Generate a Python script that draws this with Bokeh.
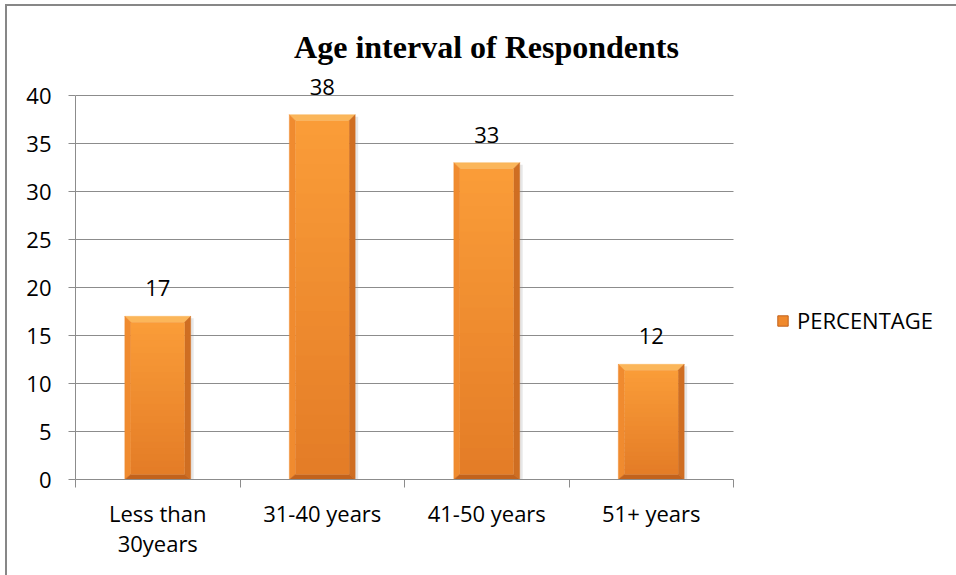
from bokeh.plotting import figure
from bokeh.models import (Range1d, FixedTicker, ColumnDataSource, LabelSet, Label,
                          Legend, LegendItem)
from bokeh.core.properties import value
from bokeh.embed import file_html
from bokeh.resources import INLINE

# Data
categories = ["Less than\n30years", "31-40 years", "41-50 years", "51+ years"]
percentage = [17, 38, 33, 12]
y_ticks = [0, 5, 10, 15, 20, 25, 30, 35, 40]
series_name = "PERCENTAGE"
title_text = "Age interval of Respondents"

FONT = "Open Sans"
GRID = "#8c8c8c"
Y_MAX = 40

# Canvas geometry: the canvas sits inside a framed box (left/top rules)
CANVAS_W, CANVAS_H = 952, 571
LEFT, BOTTOM = 68, 98                  # space for the axes
PX_PER_CAT = 164.5                     # horizontal pixels per category
PX_PER_UNIT = 9.6                      # vertical pixels per percentage point
frame_w = CANVAS_W - LEFT
frame_h = CANVAS_H - BOTTOM

p = figure(width=CANVAS_W, height=CANVAS_H, output_backend="svg", toolbar_location=None,
           x_range=Range1d(0, frame_w / PX_PER_CAT),
           y_range=Range1d(0, frame_h / PX_PER_UNIT),
           min_border_left=LEFT, min_border_right=0, min_border_top=0,
           min_border_bottom=BOTTOM, outline_line_color=None,
           margin=(4, 0, 0, 5),
           styles={"border-top": "2px solid #878787", "border-left": "2px solid #878787"})
p.title.visible = False

px_x = 1 / PX_PER_CAT
px_y = 1 / PX_PER_UNIT
n_cat = len(categories)

# Axes
p.yaxis.bounds = (0, Y_MAX)
p.yaxis.ticker = FixedTicker(ticks=y_ticks)
p.yaxis.axis_line_color = GRID
p.yaxis.major_tick_line_color = GRID
p.yaxis.major_tick_out = 7
p.yaxis.major_tick_in = 0
p.yaxis.minor_tick_line_color = None
p.yaxis.major_label_standoff = 17
p.yaxis.major_label_text_font = FONT
p.yaxis.major_label_text_font_size = "22px"
p.yaxis.major_label_text_color = "#000000"

centers = [i + 0.5 for i in range(n_cat)]
bounds = list(range(n_cat + 1))
p.xaxis.bounds = (0, n_cat)
p.xaxis.ticker = FixedTicker(ticks=centers, minor_ticks=bounds)
p.xaxis.major_label_overrides = {c: lab for c, lab in zip(centers, categories)}
p.xaxis.axis_line_color = GRID
p.xaxis.major_tick_line_color = None
p.xaxis.major_tick_out = 0
p.xaxis.major_tick_in = 0
p.xaxis.minor_tick_line_color = GRID
p.xaxis.minor_tick_out = 8
p.xaxis.minor_tick_in = 0
p.xaxis.major_label_standoff = 10
p.xaxis.major_label_text_font = FONT
p.xaxis.major_label_text_font_size = "22px"
p.xaxis.major_label_text_color = "#000000"
p.xaxis.major_label_text_line_height = 1.0

# Horizontal gridlines across the category area only
p.xgrid.grid_line_color = None
p.ygrid.grid_line_color = None
grid_y = [t for t in y_ticks if t > 0]
p.segment(x0=[0] * len(grid_y), x1=[n_cat] * len(grid_y), y0=grid_y, y1=grid_y,
          line_color=GRID, line_width=1)

# Bevelled bars
dx = 6 * px_x
dyt = 6 * px_y
dyb = 5 * px_y
half = 0.2

shadow = dict(left=[], right=[], top=[], bottom=[])
top_xs, top_ys, lft_xs, lft_ys, rgt_xs, rgt_ys, bot_xs, bot_ys = ([] for _ in range(8))
face = dict(left=[], right=[], top=[], bottom=[], color=[])

top_c = (0xFA, 0x9C, 0x38)
bot_c = (0xE4, 0x7D, 0x27)
n_slices = 24

for c, v in zip(centers, percentage):
    x0, x1 = c - half, c + half
    shadow["left"].append(x0 + 2 * px_x)
    shadow["right"].append(x1 + 3 * px_x)
    shadow["top"].append(v - 2 * px_y)
    shadow["bottom"].append(0)
    top_xs.append([x0, x1, x1 - dx, x0 + dx]); top_ys.append([v, v, v - dyt, v - dyt])
    lft_xs.append([x0, x0 + dx, x0 + dx, x0]); lft_ys.append([v, v - dyt, dyb, 0])
    rgt_xs.append([x1, x1, x1 - dx, x1 - dx]); rgt_ys.append([v, 0, dyb, v - dyt])
    bot_xs.append([x0, x1, x1 - dx, x0 + dx]); bot_ys.append([0, 0, dyb, dyb])
    y_hi, y_lo = v - dyt, dyb
    step = (y_hi - y_lo) / n_slices
    for k in range(n_slices):
        t = k / (n_slices - 1)
        col = tuple(int(round(a + (b - a) * t)) for a, b in zip(top_c, bot_c))
        face["left"].append(x0 + dx)
        face["right"].append(x1 - dx)
        face["top"].append(y_hi - k * step + (px_y if k else 0))
        face["bottom"].append(y_hi - (k + 1) * step)
        face["color"].append("#%02x%02x%02x" % col)

p.quad(source=ColumnDataSource(shadow), left="left", right="right", top="top",
       bottom="bottom", fill_color="#909090", fill_alpha=0.22, line_color=None)
p.patches(top_xs, top_ys, fill_color="#fbb65a", line_color="#fbb65a", line_width=0.5)
p.patches(lft_xs, lft_ys, fill_color="#f08b2f", line_color="#f08b2f", line_width=0.5)
p.patches(rgt_xs, rgt_ys, fill_color="#cf6e22", line_color="#cf6e22", line_width=0.5)
p.patches(bot_xs, bot_ys, fill_color="#c2621c", line_color="#c2621c", line_width=0.5)
p.quad(source=ColumnDataSource(face), left="left", right="right", top="top",
       bottom="bottom", fill_color="color", line_color=None)

# Value labels
lab_src = ColumnDataSource(dict(x=centers, y=percentage, t=[str(v) for v in percentage]))
p.add_layout(LabelSet(x="x", y="y", text="t", source=lab_src, y_offset=20,
                      text_align="center", text_baseline="alphabetic",
                      text_font=value(FONT), text_font_size=value("22px"),
                      text_color="#000000"))

# Legend
legend_glyph = p.quad(left=[0], right=[0], top=[0], bottom=[0], fill_color="#f0892c",
                      line_color="#c2621c", line_width=1)
legend = Legend(items=[LegendItem(label=series_name, renderers=[legend_glyph])],
                location=(701, 144), orientation="vertical",
                glyph_width=13, glyph_height=13, label_height=13,
                label_standoff=8, padding=0, margin=0, spacing=0,
                border_line_color=None, background_fill_alpha=0,
                label_text_font=FONT, label_text_font_size="22px",
                label_text_color="#000000", label_text_baseline="middle")
p.add_layout(legend, "center")

# Title
p.add_layout(Label(x=411, y=Y_MAX * PX_PER_UNIT + 49, x_units="screen", y_units="screen",
                   text=title_text, text_align="center", text_baseline="alphabetic",
                   text_font="Liberation Serif", text_font_style="bold",
                   text_font_size="32px", text_color="#000000"))

open("out.html", "w").write(file_html(p, INLINE))
